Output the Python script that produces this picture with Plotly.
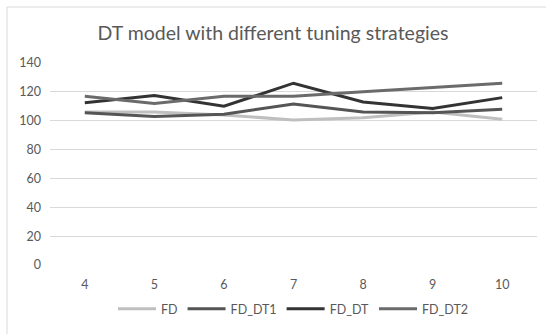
import plotly.graph_objects as go

x_cats = [4, 5, 6, 7, 8, 9, 10]
fd = [106, 106, 104, 100.5, 102, 106, 101]
fd_dt1 = [105.5, 103, 104.5, 111.5, 106, 105.5, 108]
fd_dt = [112.5, 117.5, 110, 126, 113, 108.5, 116]
fd_dt2 = [117, 112, 117, 117, 120, 123, 126]

series = [
    ("FD", fd, "#BFBFBF"),
    ("FD_DT1", fd_dt1, "#555555"),
    ("FD_DT", fd_dt, "#333333"),
    ("FD_DT2", fd_dt2, "#6B6B6B"),
]

fig = go.Figure()
for name, vals, col in series:
    fig.add_trace(go.Scatter(x=x_cats, y=vals, name=name, mode="lines",
                             line=dict(color=col, width=3)))

fig.update_layout(
    width=546, height=334,
    margin=dict(l=50, r=9, t=63, b=69, autoexpand=False),
    paper_bgcolor="white", plot_bgcolor="white",
    font=dict(family="Lato, Open Sans, sans-serif", color="#595959", size=12),
    title=dict(text="DT model with different tuning strategies", x=0.5, xanchor="center",
               y=(334 - 33) / 334, yanchor="middle", yref="container",
               font=dict(size=19.5, color="#595959")),
    showlegend=True,
    legend=dict(orientation="h", x=0.5, xanchor="center", y=(334 - 309) / 334,
                yanchor="middle", yref="container", font=dict(size=12.5, color="#595959"),
                itemwidth=38, traceorder="normal"),
    xaxis=dict(range=[3.5, 10.5], tickvals=x_cats, ticktext=[str(v) for v in x_cats],
               showgrid=False, zeroline=False, showline=False, ticks="", automargin=False,
               tickfont=dict(color="#595959", size=12.5), ticklabelstandoff=10),
    yaxis=dict(range=[0, 140], dtick=20, showgrid=True, gridcolor="#D9D9D9", gridwidth=1,
               zeroline=False, showline=False, ticks="", ticklabelstandoff=8, automargin=False,
               tickfont=dict(color="#595959", size=12.5)),
    shapes=[dict(type="rect", xref="paper", yref="paper", x0=-43/487, x1=1.2, y0=-1, y1=(265-7)/202,
                 line=dict(color="#D9D9D9", width=1), fillcolor="rgba(0,0,0,0)", layer="below")],
)

fig.write_html("out.html")
